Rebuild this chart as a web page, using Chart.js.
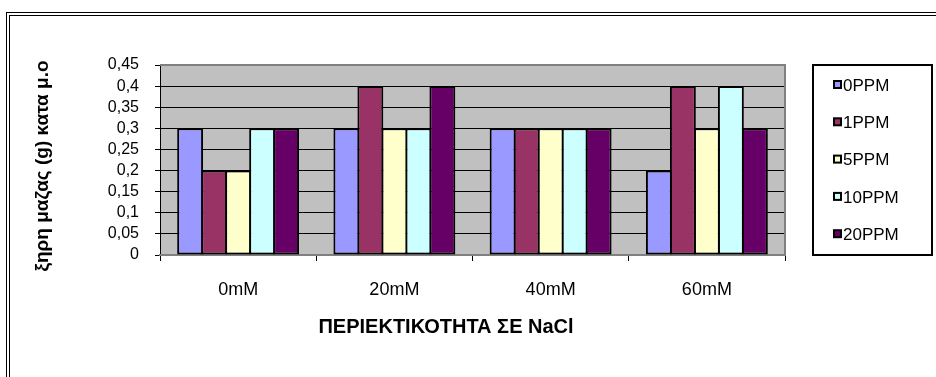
<!DOCTYPE html>
<html><head><meta charset="utf-8">
<script src="https://cdn.jsdelivr.net/npm/chart.js@4/dist/chart.umd.min.js"></script>
<style>
html,body{margin:0;padding:0;background:#fff;}
#wrap{position:relative;width:936px;height:377px;overflow:hidden;background:#fff;}
#frame{position:absolute;left:6px;top:12px;width:1000px;height:500px;border-left:4px double #000;border-top:4px double #000;}
canvas{position:absolute;left:0;top:0;}
</style></head><body>
<div id="wrap"><div id="frame"></div><canvas id="c" width="936" height="377"></canvas></div>
<script>
const categories = ['0mM', '20mM', '40mM', '60mM'];
const seriesNames = ['0PPM', '1PPM', '5PPM', '10PPM', '20PPM'];
const ppm0  = [0.3, 0.3, 0.3, 0.2];
const ppm1  = [0.2, 0.4, 0.3, 0.4];
const ppm5  = [0.2, 0.3, 0.3, 0.3];
const ppm10 = [0.3, 0.3, 0.3, 0.4];
const ppm20 = [0.3, 0.4, 0.3, 0.3];
const yTickLabels = ['0', '0,05', '0,1', '0,15', '0,2', '0,25', '0,3', '0,35', '0,4', '0,45'];
const yTitle = 'ξηρη μαζας (g) κατα μ.ο';
const xTitle = 'ΠΕΡΙΕΚΤΙΚΟΤΗΤΑ ΣΕ NaCl';

const seriesValues = [ppm0, ppm1, ppm5, ppm10, ppm20];
const colors = ['#9999FF', '#993366', '#FFFFCC', '#CCFFFF', '#660066'];
const FONT = "'Liberation Sans', Arial, sans-serif";

const decor = {
  id: 'decor',
  beforeDraw(chart) {
    const a = chart.chartArea, ctx = chart.ctx;
    ctx.save();
    ctx.fillStyle = '#C0C0C0';
    ctx.fillRect(a.left, a.top, a.right - a.left, a.bottom - a.top);
    ctx.restore();
  },
  afterDraw(chart) {
    const a = chart.chartArea, ctx = chart.ctx;
    ctx.save();
    ctx.strokeStyle = '#808080';
    ctx.lineWidth = 2;
    ctx.beginPath();
    ctx.moveTo(a.left, a.top);
    ctx.lineTo(a.right, a.top);
    ctx.lineTo(a.right, a.bottom);
    ctx.stroke();
    ctx.strokeStyle = '#000';
    ctx.lineWidth = 2;
    ctx.strokeRect(813, 65, 119, 190);
    ctx.font = '17px ' + FONT;
    ctx.textBaseline = 'middle';
    ctx.textAlign = 'left';
    chart.data.datasets.forEach((ds, i) => {
      const y = 85 + i * 37.3;
      ctx.fillStyle = ds.backgroundColor;
      ctx.fillRect(834, y - 4, 7, 7);
      ctx.strokeStyle = '#000';
      ctx.lineWidth = 2;
      ctx.strokeRect(834, y - 4, 7, 7);
      ctx.fillStyle = '#000';
      ctx.fillText(ds.label, 843, y + 1);
    });
    ctx.fillStyle = '#000';
    ctx.textAlign = 'center';
    ctx.textBaseline = 'middle';
    ctx.font = 'bold 20px ' + FONT;
    ctx.fillText(xTitle, 446, 327);
    ctx.translate(43, 166);
    ctx.rotate(-Math.PI / 2);
    ctx.font = 'bold 19px ' + FONT;
    ctx.fillText(yTitle, 0, 0);
    ctx.restore();
  }
};

new Chart(document.getElementById('c'), {
  type: 'bar',
  data: {
    labels: categories,
    datasets: seriesNames.map((n, i) => ({
      label: n,
      data: seriesValues[i],
      backgroundColor: colors[i],
      borderColor: '#000',
      borderWidth: 2,
      borderSkipped: false,
      categoryPercentage: 0.768,
      barPercentage: 1.08
    }))
  },
  options: {
    responsive: false,
    animation: false,
    devicePixelRatio: 1,
    layout: { padding: { left: 60, top: 65, right: 151, bottom: 0 } },
    plugins: { legend: { display: false }, tooltip: { enabled: false } },
    scales: {
      y: {
        min: 0, max: 0.45,
        afterFit: s => { s.width = 100; },
        ticks: {
          stepSize: 0.05,
          autoSkip: false,
          color: '#000',
          font: { family: FONT, size: 16 },
          padding: 16,
          callback: v => yTickLabels[Math.round(v / 0.05)]
        },
        grid: { color: '#000', lineWidth: 1, tickLength: 5, tickColor: '#000' },
        border: { display: true, color: '#000', width: 1 }
      },
      x: {
        afterFit: s => { s.height = 122; },
        ticks: {
          color: '#000',
          font: { family: FONT, size: 18 },
          padding: 18
        },
        grid: { drawOnChartArea: false, tickLength: 6, color: '#000', offset: true },
        border: { display: true, color: '#808080', width: 2 }
      }
    }
  },
  plugins: [decor]
});
</script>
</body></html>
